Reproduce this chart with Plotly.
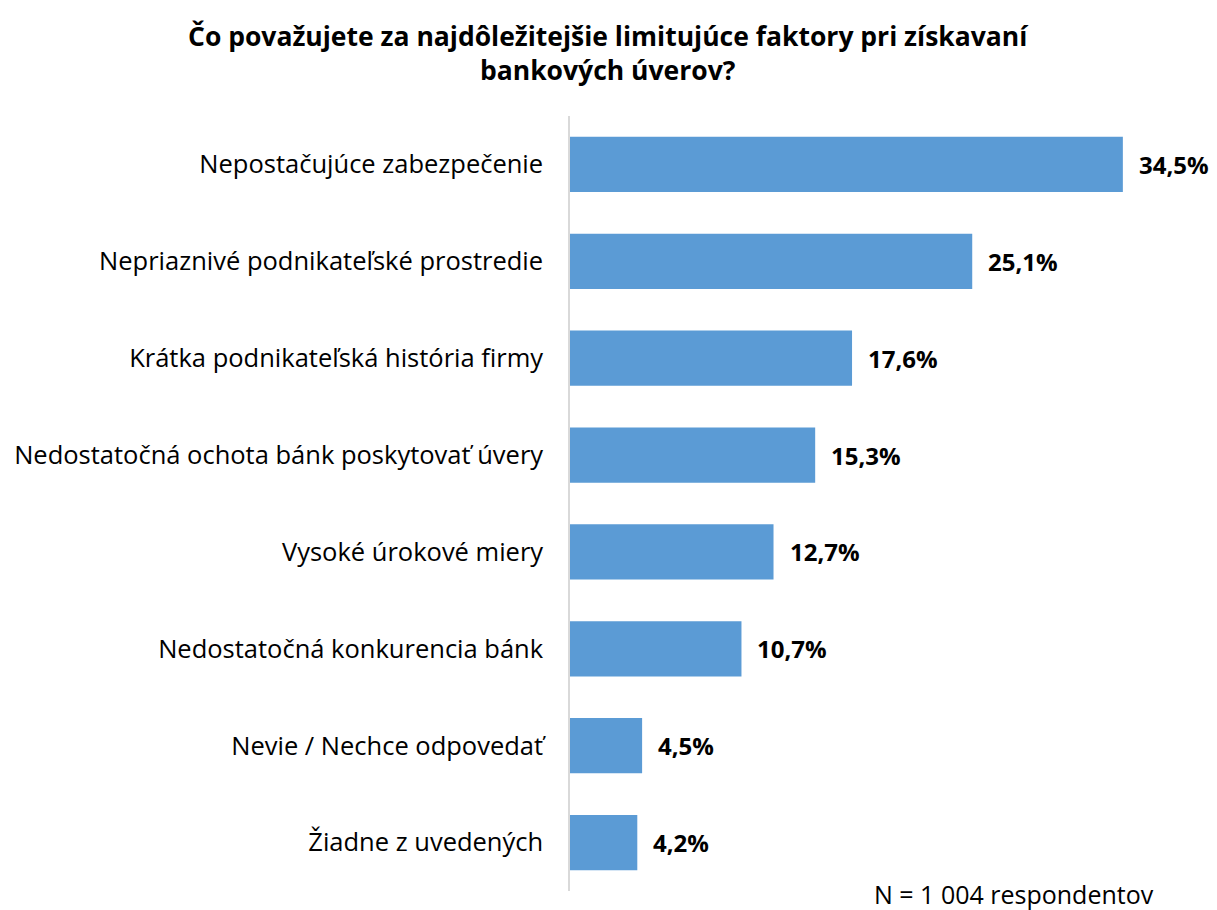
import plotly.graph_objects as go

categories = [
    "Nepostačujúce zabezpečenie",
    "Nepriaznivé podnikateľské prostredie",
    "Krátka podnikateľská história firmy",
    "Nedostatočná ochota bánk poskytovať úvery",
    "Vysoké úrokové miery",
    "Nedostatočná konkurencia bánk",
    "Nevie / Nechce odpovedať",
    "Žiadne z uvedených",
]
values = [34.5, 25.1, 17.6, 15.3, 12.7, 10.7, 4.5, 4.2]
value_labels = ["34,5%", "25,1%", "17,6%", "15,3%", "12,7%", "10,7%", "4,5%", "4,2%"]

FONT = "Open Sans"

# page offset (browser body margin) compensation
OX, OY = 8, 7
L, T, R, B = 570 - OX, 115 - OY, 6 + OX, 20 + OY
PW = 1217 - L - R
PH = 910 - T - B

fig = go.Figure()
fig.add_trace(go.Bar(
    x=values,
    y=categories,
    orientation="h",
    marker=dict(color="#5b9bd5", line=dict(width=0)),
    width=0.57,
    hoverinfo="skip",
))

for cat, v, lab in zip(categories, values, value_labels):
    fig.add_annotation(
        x=v, y=cat, text="<b>" + lab + "</b>", showarrow=False,
        xanchor="left", xshift=14, yanchor="middle",
        font=dict(family=FONT, size=24, color="#000000"),
    )

fig.add_annotation(
    xref="paper", yref="paper",
    x=(1156 - 570) / PW, y=-(893 - 890) / PH,
    xanchor="right", yanchor="middle",
    text="N = 1 004 respondentov", showarrow=False,
    font=dict(family=FONT, size=25, color="#000000"),
)

fig.add_annotation(
    xref="paper", yref="paper",
    x=(608 - 570) / PW, y=1 + (115 - 52) / PH,
    xanchor="center", yanchor="middle",
    text="<b>Čo považujete za najdôležitejšie limitujúce faktory pri získavaní<br>bankových úverov?</b>",
    showarrow=False, align="center",
    font=dict(family=FONT, size=26.5, color="#000000"),
)

fig.update_layout(
    width=1217, height=910,
    paper_bgcolor="white", plot_bgcolor="white",
    margin=dict(l=L, r=R, t=T, b=B, autoexpand=False),
    showlegend=False,
    xaxis=dict(range=[0, 40], visible=False, fixedrange=True, automargin=False),
    yaxis=dict(
        autorange=False, range=[7.5, -0.5], automargin=False,
        showline=True, linecolor="#d9d9d9", linewidth=1.5,
        ticks="", showgrid=False, zeroline=False,
        ticklabelstandoff=20,
        tickfont=dict(family=FONT, size=25.5, color="#000000"),
    ),
)

fig.write_html("out.html")
